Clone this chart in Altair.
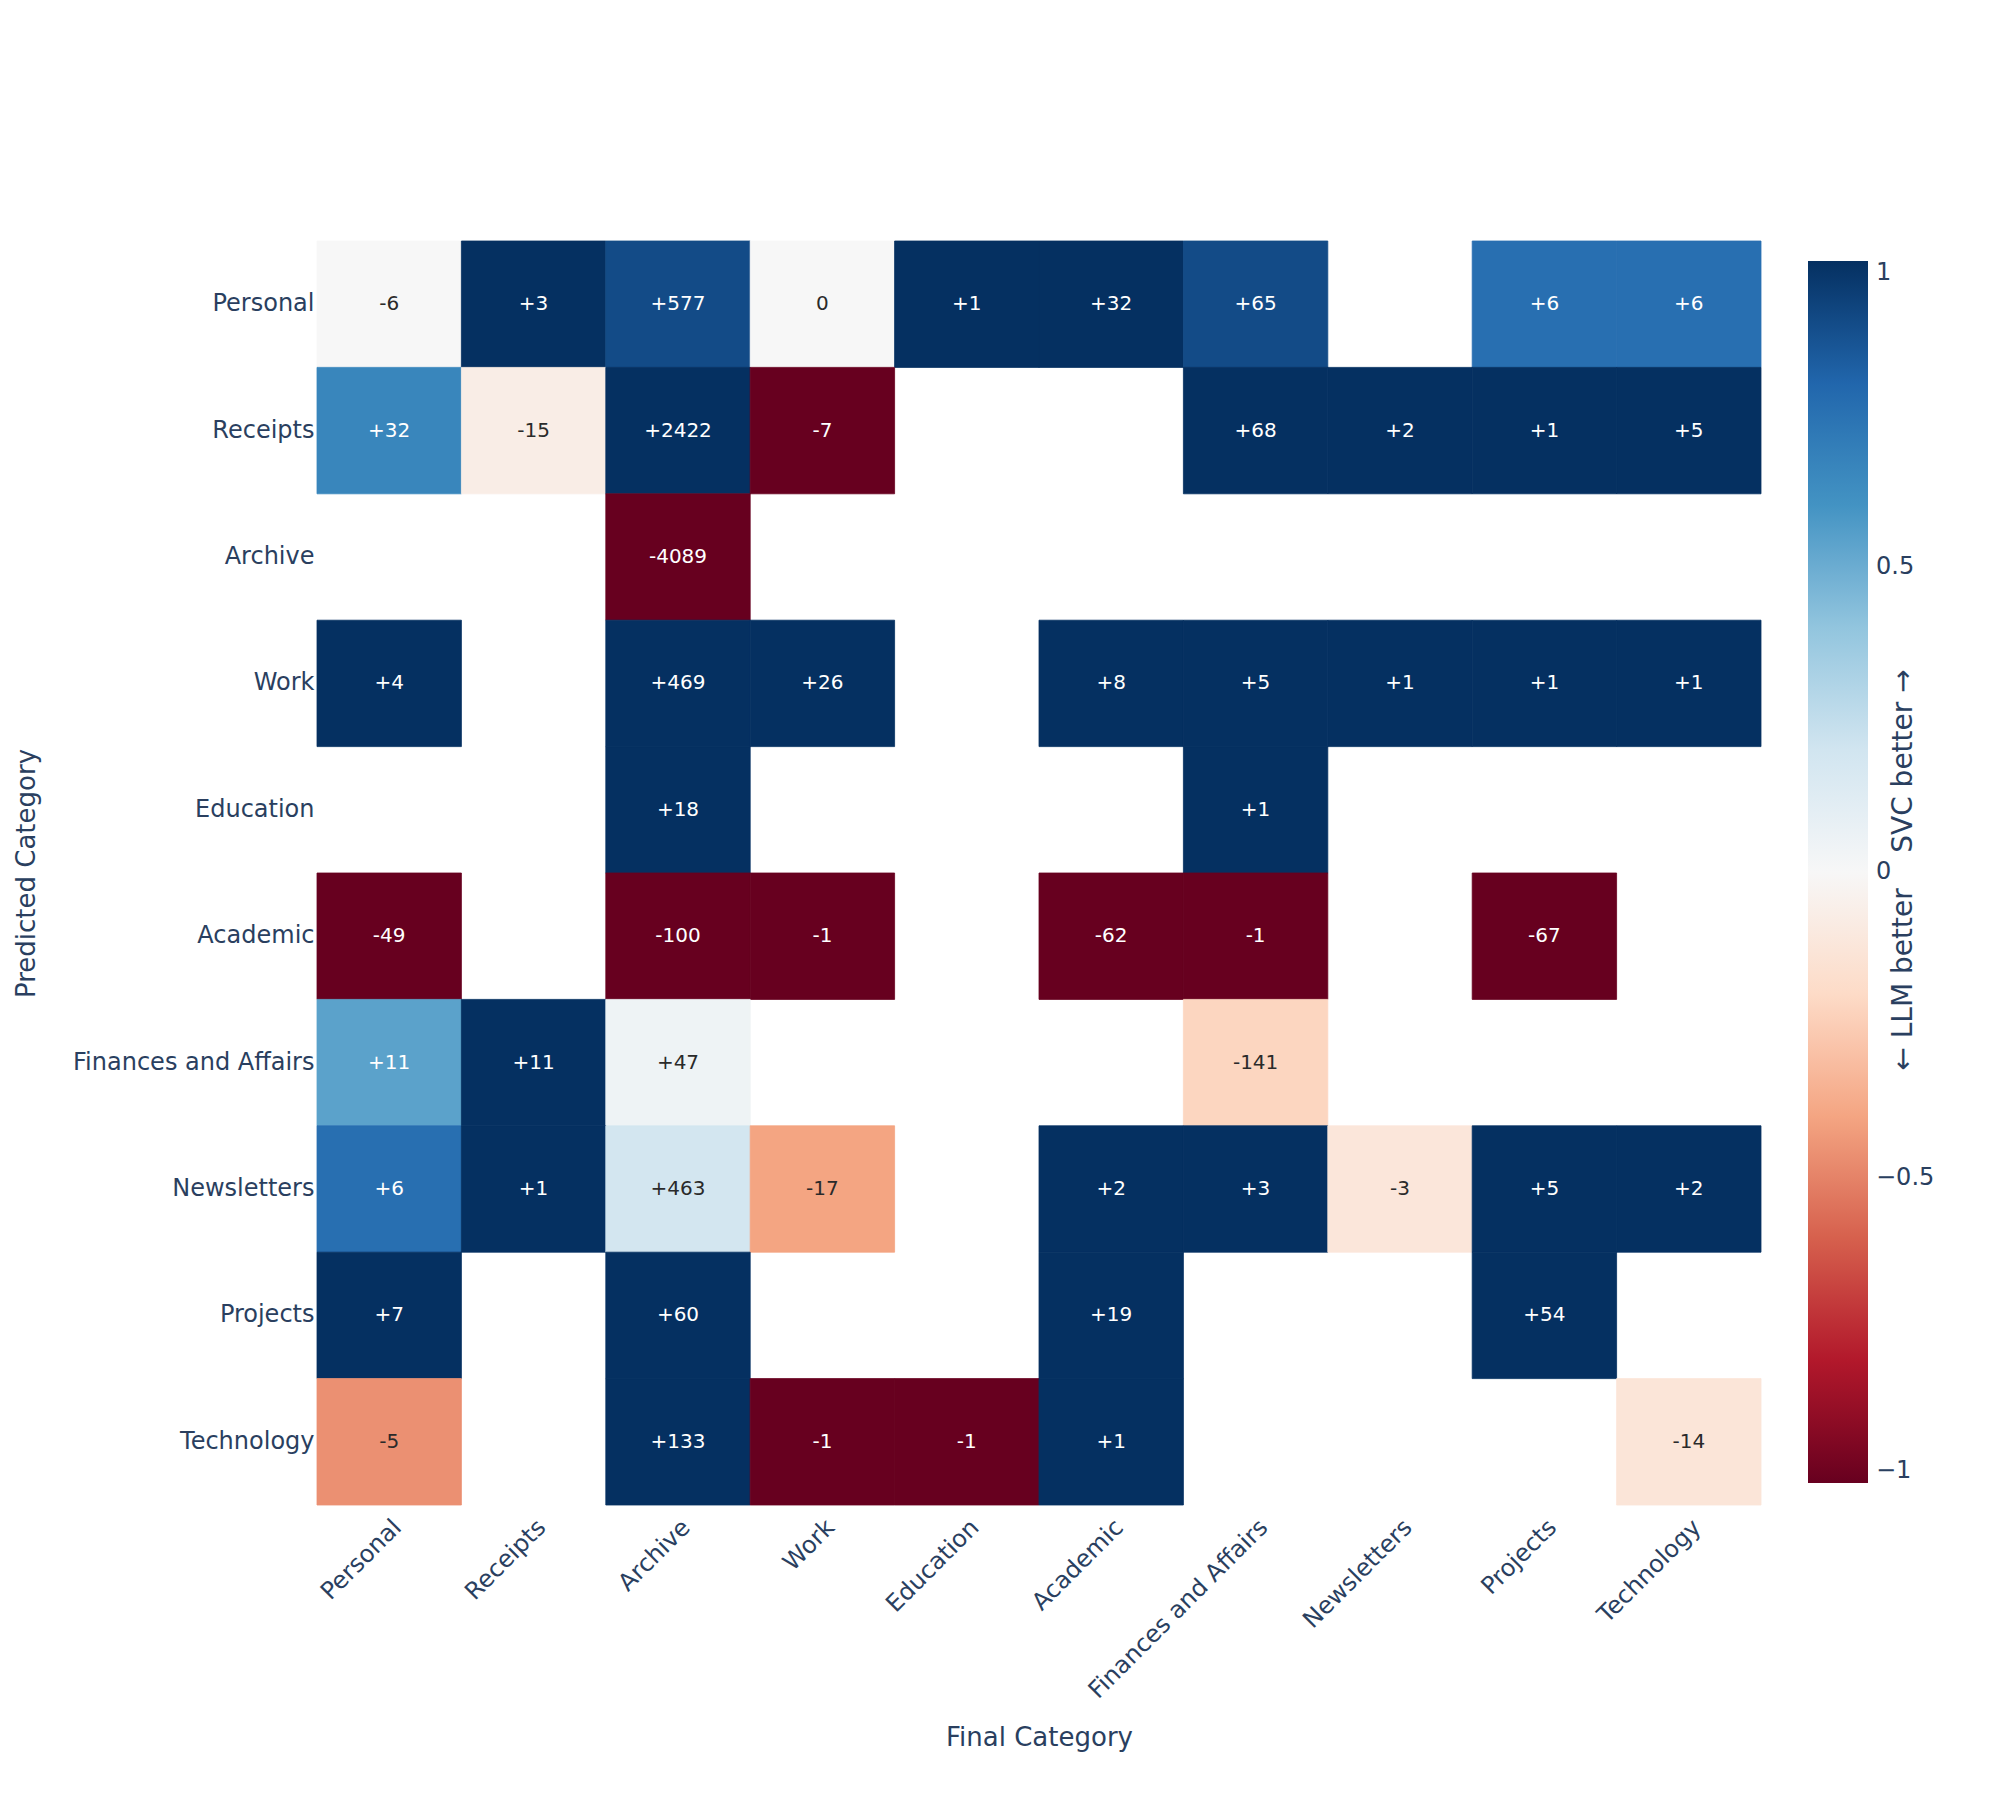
import altair as alt
import pandas as pd

categories = ["Personal", "Receipts", "Archive", "Work", "Education", "Academic",
              "Finances and Affairs", "Newsletters", "Projects", "Technology"]

# difference counts per predicted row (columns follow `categories`); None = empty cell
diff_personal = [-6, 3, 577, 0, 1, 32, 65, None, 6, 6]
diff_receipts = [32, -15, 2422, -7, None, None, 68, 2, 1, 5]
diff_archive = [None, None, -4089, None, None, None, None, None, None, None]
diff_work = [4, None, 469, 26, None, 8, 5, 1, 1, 1]
diff_education = [None, None, 18, None, None, None, 1, None, None, None]
diff_academic = [-49, None, -100, -1, None, -62, -1, None, -67, None]
diff_finances = [11, 11, 47, None, None, None, -141, None, None, None]
diff_newsletters = [6, 1, 463, -17, None, 2, 3, -3, 5, 2]
diff_projects = [7, None, 60, None, None, 19, None, None, 54, None]
diff_technology = [-5, None, 133, -1, -1, 1, None, None, None, -14]

# colour score (-1 .. 1) per cell
score_personal = [0.0, 1, 0.9, 0.0, 1, 1, 0.9, None, 0.76, 0.76]
score_receipts = [0.66, -0.07, 1, -1, None, None, 1, 1, 1, 1]
score_archive = [None, None, -1, None, None, None, None, None, None, None]
score_work = [1, None, 1, 1, None, 1, 1, 1, 1, 1]
score_education = [None, None, 1, None, None, None, 1, None, None, None]
score_academic = [-1, None, -1, -1, None, -1, -1, None, -1, None]
score_finances = [0.54, 1, 0.05, None, None, None, -0.22, None, None, None]
score_newsletters = [0.76, 1, 0.19, -0.4, None, 1, 1, -0.12, 1, 1]
score_projects = [1, None, 1, None, None, 1, None, None, 1, None]
score_technology = [-0.46, None, 1, -1, -1, 1, None, None, None, -0.13]

colorbar_title = "← LLM better\u00a0\u00a0\u00a0\u00a0SVC better →"
colorbar_ticks = [-1, -0.5, 0, 0.5, 1]

# RdBu colour scale stops
rdbu_domain = [-1, -0.8, -0.6, -0.4, -0.2, 0, 0.2, 0.4, 0.6, 0.8, 1]
rdbu_range = ["#67001f", "#b2182b", "#d6604d", "#f4a582", "#fddbc7", "#f7f7f7",
              "#d1e5f0", "#92c5de", "#4393c3", "#2166ac", "#053061"]


def edge_colour(v):
    """Same RGB interpolation as the fill scale, used for a hairline edge that hides seams."""
    v = max(-1.0, min(1.0, v))
    for i in range(len(rdbu_domain) - 1):
        a, b = rdbu_domain[i], rdbu_domain[i + 1]
        if a <= v <= b:
            t = (v - a) / (b - a)
            c0 = [int(rdbu_range[i][k:k + 2], 16) for k in (1, 3, 5)]
            c1 = [int(rdbu_range[i + 1][k:k + 2], 16) for k in (1, 3, 5)]
            c = [round(x + (y - x) * t) for x, y in zip(c0, c1)]
            return "#%02x%02x%02x" % tuple(c)
    return rdbu_range[-1]


diff_rows = [diff_personal, diff_receipts, diff_archive, diff_work, diff_education,
             diff_academic, diff_finances, diff_newsletters, diff_projects, diff_technology]
score_rows = [score_personal, score_receipts, score_archive, score_work, score_education,
              score_academic, score_finances, score_newsletters, score_projects, score_technology]

records = []
for pred, drow, srow in zip(categories, diff_rows, score_rows):
    for fin, d, s in zip(categories, drow, srow):
        if d is None:
            continue
        label = f"+{d}" if d > 0 else str(d)
        records.append({"Predicted": pred, "Final": fin, "diff": d, "score": s,
                        "edge": edge_colour(s),
                        "label": label,
                        "light": 1 if (s > 0.5 or s < -0.7) else 0})
df = pd.DataFrame(records)

FONT = "DejaVu Sans"
TXT = "#2a3f5f"

x_enc = alt.X("Final:N", sort=categories, title="Final Category",
              scale=alt.Scale(paddingInner=0, paddingOuter=0),
              axis=alt.Axis(labelAngle=-45, ticks=False, domain=False, labelPadding=10,
                            labelFontSize=24, titleFontSize=26, titlePadding=22,
                            labelLimit=0,
                            labelFont=FONT, titleFont=FONT, labelColor=TXT, titleColor=TXT,
                            titleFontWeight="normal"))
y_enc = alt.Y("Predicted:N", sort=categories, title="Predicted Category",
              scale=alt.Scale(paddingInner=0, paddingOuter=0),
              axis=alt.Axis(ticks=False, domain=False, labelPadding=3,
                            labelFontSize=24, titleFontSize=26, titlePadding=78,
                            labelLimit=0,
                            labelFont=FONT, titleFont=FONT, labelColor=TXT, titleColor=TXT,
                            titleFontWeight="normal"))

rects = alt.Chart(df).mark_rect(strokeWidth=0.8).encode(
    x=x_enc, y=y_enc,
    color=alt.Color("score:Q",
                    scale=alt.Scale(domain=rdbu_domain, range=rdbu_range, interpolate="rgb"),
                    legend=alt.Legend(title=None,
                                      orient="none", legendX=1491, legendY=20,
                                      direction="vertical",
                                      gradientLength=1222, gradientThickness=60,
                                      values=colorbar_ticks, format="~g",
                                      labelBaseline="middle", labelOffset=8,
                                      labelFontSize=24, labelFont=FONT, labelColor=TXT)),
    stroke=alt.Stroke("edge:N", scale=None),
)

texts = alt.Chart(df).mark_text(font=FONT, fontSize=20).encode(
    x=alt.X("Final:N", sort=categories),
    y=alt.Y("Predicted:N", sort=categories),
    text="label:N",
    color=alt.condition("datum.light == 1", alt.value("white"), alt.value("#2a2a2a")),
)

cb_title = alt.Chart(pd.DataFrame({"t": [colorbar_title]})).mark_text(
    font=FONT, fontSize=28, angle=270, color=TXT, align="center", baseline="middle"
).encode(x=alt.value(1587), y=alt.value(629), text="t:N")

chart = alt.layer(rects, texts, cb_title).properties(
    width=1444, height=1264,
    padding={"left": 5, "top": 232, "right": 5, "bottom": 5},
).configure_view(stroke=None)

chart.save("out.html", embed_options={"renderer": "svg", "actions": False})
